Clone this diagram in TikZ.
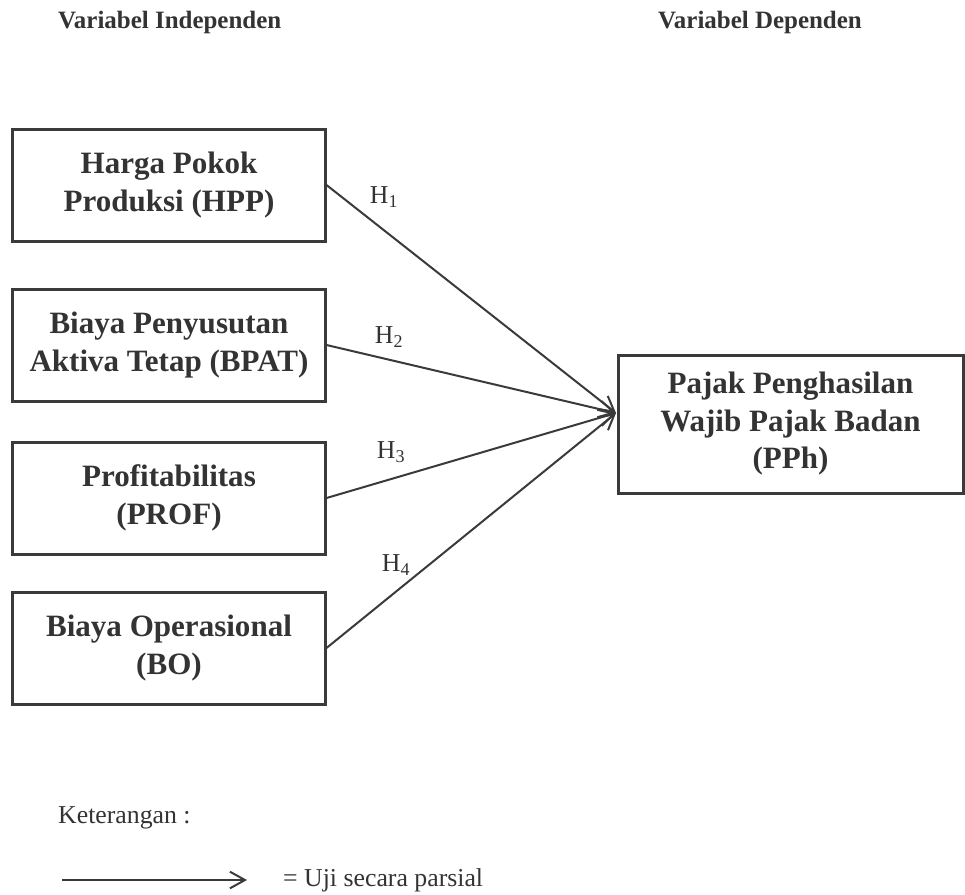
\documentclass[tikz,border=0pt]{standalone}
\usepackage{fontspec}
\setmainfont{Liberation Serif}
\usetikzlibrary{arrows.meta}

\definecolor{garis}{HTML}{3A3A3A}
\definecolor{tulisan}{HTML}{333333}

\tikzset{
  kotak/.style={draw=garis, line width=0.09cm, minimum width=9.36cm,
    minimum height=3.36cm, align=center, inner sep=0pt, text=tulisan,
    font=\bfseries\fontsize{26.5}{32}\selectfont},
  panah/.style={draw=garis, line width=0.06cm,
    -{Straight Barb[length=0.45cm, width=0.5cm, line width=0.06cm]}},
  judul/.style={anchor=west, inner sep=0pt, text=tulisan,
    font=\bfseries\fontsize{21.3}{25}\selectfont},
  ket/.style={inner sep=0pt, text=tulisan, font=\fontsize{22}{26}\selectfont},
}

\begin{document}
\begin{tikzpicture}[x=0.03cm, y=-0.03cm]
				\useasboundingbox (0,0) rectangle (965,894);

				% judul kolom
				\node[judul] (indep) at (58,22) {Variabel Independen};
				\node[judul] (dep) at (658,22) {Variabel Dependen};

				% variabel independen
				\foreach \nama/\ypos/\isi in {hpp/185/{Harga Pokok\\Produksi (HPP)},
				  bpat/345/{Biaya Penyusutan\\Aktiva Tetap (BPAT)},
				  prof/498/{Profitabilitas\\(PROF)},
				  bo/648/{Biaya Operasional\\(BO)}} {
				 	\node[kotak] (\nama) at (169,\ypos) {\isi};
				}

				% variabel dependen
				\node[kotak, minimum width=10.35cm, minimum height=4.14cm] (pph) at (790.5,424)
				  {Pajak Penghasilan\\Wajib Pajak Badan\\(PPh)};
				\coordinate (ujung) at (616,413);

				% hipotesis
				\foreach \nama/\k/\lx/\ly in {hpp/1/384/197, bpat/2/389/337, prof/3/391/452, bo/4/396/565} {
				 	\draw[panah] (\nama.east) -- (ujung);
				 	\node[ket] (h\k) at (\lx,\ly) {H\textsubscript{\k}};
				}

				% keterangan
				\node[ket, anchor=west] (keterangan) at (58,818) {Keterangan :};
				\coordinate (awal) at (62,880);
				\coordinate (akhir) at (247,880);
				\draw[panah] (awal) -- (akhir);
				\node[ket, anchor=west] (uji) at (283,880) {= Uji secara parsial};
\end{tikzpicture}
\end{document}
